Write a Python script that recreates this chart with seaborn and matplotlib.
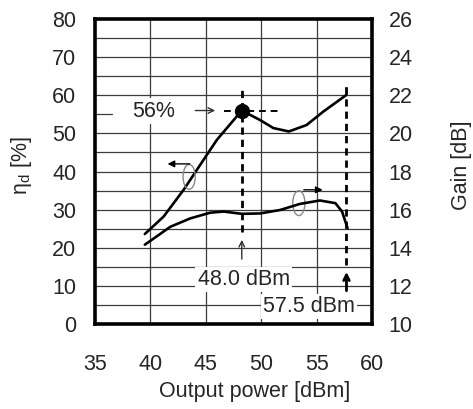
import matplotlib
matplotlib.use("Agg")
import matplotlib.pyplot as plt
import seaborn as sns
import pandas as pd
from matplotlib.patches import Ellipse

# ---- data ----
eff_pout = [39.5, 41.2, 43.0, 44.6, 46.0, 48.25, 49.9, 51.1, 52.5, 54.1, 55.6, 57.7]
eff_val = [23.6, 28.2, 35.2, 42.2, 48.3, 56.0, 53.5, 51.4, 50.5, 52.2, 55.7, 60.1]
gain_pout = [39.5, 41.8, 43.6, 45.4, 46.6, 48.25, 49.9, 51.7, 53.5, 55.3, 56.7, 57.3, 57.8]
gain_val = [14.16, 15.1, 15.54, 15.84, 15.9, 15.78, 15.8, 15.98, 16.3, 16.48, 16.34, 15.9, 15.02]
peak_pout, peak_eff = 48.25, 56.0
sat_pout = 57.7
x_ticks = [35, 40, 45, 50, 55, 60]
y_ticks = [0, 10, 20, 30, 40, 50, 60, 70, 80]
g_ticks = [10, 12, 14, 16, 18, 20, 22, 24, 26]

sns.set_style("white")
plt.rcParams['font.family'] = ['Liberation Sans', 'DejaVu Sans']
plt.rcParams['mathtext.fontset'] = 'custom'
plt.rcParams['mathtext.rm'] = 'Liberation Sans'
plt.rcParams['mathtext.it'] = 'Liberation Sans'

FS = 15.5
fig = plt.figure(figsize=(4.73, 4.09), dpi=100)
ax = fig.add_axes([0.2008, 0.2078, 0.5856, 0.7457])
ax2 = ax.twinx()

df_e = pd.DataFrame({"p": eff_pout, "v": eff_val})
df_g = pd.DataFrame({"p": gain_pout, "v": gain_val})
sns.lineplot(data=df_e, x="p", y="v", ax=ax, color="black", lw=1.9, zorder=5)
sns.lineplot(data=df_g, x="p", y="v", ax=ax2, color="black", lw=1.9, zorder=5)

ax.set_xlim(35, 60)
ax.set_ylim(0, 80)
ax2.set_ylim(10, 26)
ax.set_xticks(x_ticks)
ax.set_yticks(y_ticks)
ax2.set_yticks(g_ticks)

# grid lines (the 55 % line is hidden right of the 56 % label)
gcol, glw = "#3c3c3c", 0.9
for v in range(5, 80, 5):
    if v == 55:
        ax.plot([35, 36.55], [v, v], color=gcol, lw=glw, zorder=0.5)
    else:
        ax.axhline(v, color=gcol, lw=glw, zorder=0.5)
for v in x_ticks[1:-1]:
    ax.axvline(v, color=gcol, lw=glw, zorder=0.5)

ax.tick_params(axis="both", which="both", length=0, labelsize=FS)
ax.tick_params(axis="y", pad=13.5)
ax.tick_params(axis="x", pad=21.5)
ax2.tick_params(axis="y", length=0, labelsize=FS, pad=12)
ax.set_xlabel("Output power [dBm]", fontsize=FS)
ax.xaxis.set_label_coords(0.576, -0.188)
ax.set_ylabel(r"$\mathregular{\eta_d}$ [%]", fontsize=FS)
ax.yaxis.set_label_coords(-0.22, 0.52)
ax2.set_ylabel("Gain [dB]", fontsize=FS)
ax2.yaxis.set_label_coords(1.285, 0.52)
for s in ax.spines.values():
    s.set_linewidth(2.6)
    s.set_color("black")
for s in ax2.spines.values():
    s.set_visible(False)

# peak marker and dashed guides
dash = (0, (2.6, 1.8))
ax.plot([peak_pout], [peak_eff], "o", color="black", ms=10, zorder=7)
ax.plot([peak_pout, peak_pout], [24.1, 61.7], ls=dash, color="black", lw=2, zorder=6)
ax.plot([sat_pout, sat_pout], [15.5, 62.5], ls=dash, color="black", lw=2, zorder=6)
ax.plot([46.6, 51.7], [peak_eff, peak_eff], ls=(0, (3.5, 2.5)), color="black", lw=1.4, zorder=6)

# annotations
box = dict(facecolor="white", edgecolor="none", pad=1.5)
ax.text(40.27, 54.4, "56%", fontsize=FS, ha="center", va="baseline", zorder=3, bbox=box)
ax.annotate("", xy=(46.1, 56), xytext=(43.8, 56),
            arrowprops=dict(arrowstyle="->", color="#333333", lw=1.0), zorder=8)
ax.text(48.42, 10.2, "48.0 dBm", fontsize=FS, ha="center", va="baseline", zorder=3, bbox=box)
ax.annotate("", xy=(peak_pout, 22.8), xytext=(peak_pout, 16.3),
            arrowprops=dict(arrowstyle="->", color="#333333", lw=1.0), zorder=8)
ax.text(54.33, 3.2, "57.5 dBm", fontsize=FS, ha="center", va="baseline", zorder=3, bbox=box)
ax.annotate("", xy=(sat_pout, 14.4), xytext=(sat_pout, 8.0),
            arrowprops=dict(arrowstyle="->", color="black", lw=2.0), zorder=8)

# curve indicators
ax.add_patch(Ellipse((43.5, 38.6), 1.1, 6.5, fill=False, edgecolor="#888888", lw=1.0, zorder=6))
ax.annotate("", xy=(41.3, 42.0), xytext=(43.8, 42.0),
            arrowprops=dict(arrowstyle="-|>", color="black", lw=1.0, mutation_scale=10), zorder=8)
ax.add_patch(Ellipse((53.4, 31.7), 1.1, 6.5, fill=False, edgecolor="#888888", lw=1.0, zorder=6))
ax.annotate("", xy=(55.8, 35.2), xytext=(53.6, 35.2),
            arrowprops=dict(arrowstyle="-|>", color="black", lw=1.0, mutation_scale=10), zorder=8)

fig.savefig("out.png", dpi=100)
